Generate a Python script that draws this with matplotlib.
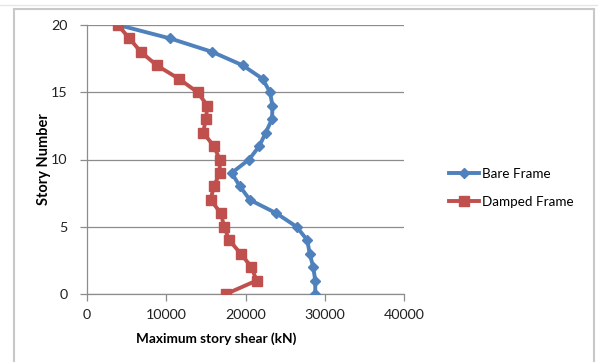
import matplotlib
matplotlib.use("Agg")
import matplotlib.pyplot as plt
from matplotlib.patches import Rectangle
from matplotlib.lines import Line2D

plt.rcParams['font.family'] = ['Lato', 'DejaVu Sans']

stories = list(range(0, 21))
bare_frame = [28800, 28800, 28550, 28100, 27800, 26450, 23900, 20550, 19300, 18250,
              20450, 21750, 22550, 23350, 23400, 23100, 22150, 19650, 15800, 10500, 3950]
damped_frame = [17550, 21400, 20750, 19400, 17950, 17300, 16900, 15600, 16000, 16750,
                16750, 16000, 14650, 15000, 15200, 13950, 11600, 8800, 6800, 5350, 3900]

x_ticks = [0, 10000, 20000, 30000, 40000]
y_ticks = [0, 5, 10, 15, 20]

W, H = 598, 362
fig = plt.figure(figsize=(W / 100, H / 100), dpi=100)
fig.patch.set_facecolor('white')

# chart area frame
fig.patches.append(Rectangle((14 / W, -0.05), (594 - 14) / W, 1.05 - 9 / H,
                             transform=fig.transFigure, fill=False,
                             edgecolor='#C8C8C8', linewidth=1.5, zorder=0))
fig.lines.append(Line2D([0, 1], [1 - 5 / H, 1 - 5 / H], transform=fig.transFigure,
                        color='#E6E6E6', linewidth=1.0))

ax = fig.add_axes([87 / W, (H - 294) / H, (404 - 87) / W, (294 - 25) / H])

blue = '#4F81BD'
red = '#C0504D'
ax.plot(bare_frame, stories, color=blue, linewidth=2.8, marker='D', markersize=5.5,
        markerfacecolor=blue, markeredgecolor=blue, label='Bare Frame', zorder=3)
ax.plot(damped_frame, stories, color=red, linewidth=2.8, marker='s', markersize=7,
        markerfacecolor=red, markeredgecolor=red, label='Damped Frame', zorder=4)

ax.set_xlim(0, 40000)
ax.set_ylim(0, 20)
ax.set_xticks(x_ticks)
ax.set_yticks(y_ticks)
ax.yaxis.grid(True, color='#8C8C8C', linewidth=0.9)
ax.set_axisbelow(True)
for s in ['top', 'right']:
    ax.spines[s].set_visible(False)
for s in ['left', 'bottom']:
    ax.spines[s].set_color('#8C8C8C')
    ax.spines[s].set_linewidth(0.9)
ax.tick_params(axis='both', direction='out', length=5, width=0.9, color='#8C8C8C',
               labelsize=10.3, labelcolor='#222222', pad=3)
ax.tick_params(axis='x', pad=6)
ax.tick_params(axis='y', pad=9)

ax.set_xlabel('Maximum story shear (kN)', fontsize=9.8, fontweight='bold')
ax.xaxis.set_label_coords((216 - 87) / (404 - 87), -(332 - 294) / (294 - 25))
ax.set_ylabel('Story Number', fontsize=10.5, fontweight='bold')
ax.yaxis.set_label_coords(-(87 - 51) / (404 - 87), 0.5)

ax.legend(loc='center left', bbox_to_anchor=(1.105, (294 - 188) / (294 - 25)),
          frameon=False, fontsize=9.7, handlelength=2.2, handletextpad=0.2,
          labelspacing=1.2)

fig.savefig('out.png', dpi=100)
